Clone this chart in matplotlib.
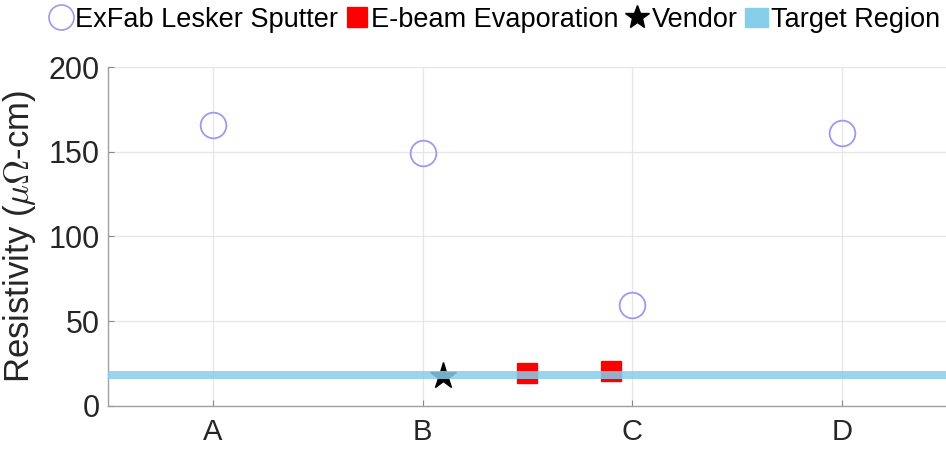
import matplotlib.pyplot as plt
import matplotlib.patches as mpatches
from matplotlib.lines import Line2D

plt.rcParams['font.family'] = ['Liberation Sans', 'DejaVu Sans']
plt.rcParams['mathtext.fontset'] = 'cm'

# data
categories = ['A', 'B', 'C', 'D']
sputter_x = [1, 2, 3, 4]
sputter_y = [166, 149, 59.5, 161]
ebeam_x = [2.5, 2.9]
ebeam_y = [19.5, 20.5]
vendor_x = [2.1]
vendor_y = [17.7]
target_lo = 16
target_hi = 20.5

fig = plt.figure(figsize=(9.46, 4.5), dpi=100)
ax = fig.add_axes([0.114, 0.098, 0.887, 0.753])

circ_col = '#9b9bee'
ax.plot(sputter_x, sputter_y, 'o', ms=18.5, mfc='none', mec=circ_col, mew=1.3, zorder=3)
ax.plot(ebeam_x, ebeam_y, 's', ms=15, color='#ff0000', mec='#ff0000', zorder=3)
ax.plot(vendor_x, vendor_y, '*', ms=20, color='black', zorder=3)
# target band drawn over the markers, semi transparent
ax.axhspan(target_lo, target_hi, color='#87ceeb', alpha=0.85, lw=0, zorder=4)

ax.set_xlim(0.5, 4.5)
ax.set_ylim(0, 200)
ax.set_xticks(sputter_x)
ax.set_xticklabels(categories, fontsize=21)
ax.set_yticks([0, 50, 100, 150, 200])
ax.tick_params(axis='y', labelsize=22, direction='in', length=4, color='#888888', pad=6)
ax.tick_params(axis='x', direction='in', length=4, color='#888888', pad=9)
ax.grid(True, color='#e6e6e6', lw=0.9)
ax.set_axisbelow(True)
for s in ['top', 'right']:
    ax.spines[s].set_visible(False)
for s in ['left', 'bottom']:
    ax.spines[s].set_color('#a0a0a0')
    ax.spines[s].set_linewidth(1.0)
ax.set_ylabel(r'Resistivity ($\mu\Omega$-cm)', fontsize=25, color='#262626')
ax.yaxis.set_label_coords(-0.083, 0.5)
for lab in ax.get_xticklabels() + ax.get_yticklabels():
    lab.set_color('#262626')

handles = [
    Line2D([], [], ls='none', marker='o', ms=18, mfc='none', mec=circ_col, mew=1.2),
    Line2D([], [], ls='none', marker='s', ms=15, color='#ff0000'),
    Line2D([], [], ls='none', marker='*', ms=18, color='black'),
    mpatches.Patch(color='#87ceeb'),
]
names = ['ExFab Lesker Sputter', 'E-beam Evaporation', 'Vendor', 'Target Region']
fig.legend(handles, names, loc='upper right', bbox_to_anchor=(1.008, 1.015), ncol=4, frameon=False,
           fontsize=19.5, handlelength=0.85, handletextpad=0.12, columnspacing=0.25,
           borderaxespad=0.1)

fig.savefig('out.png', dpi=100)
